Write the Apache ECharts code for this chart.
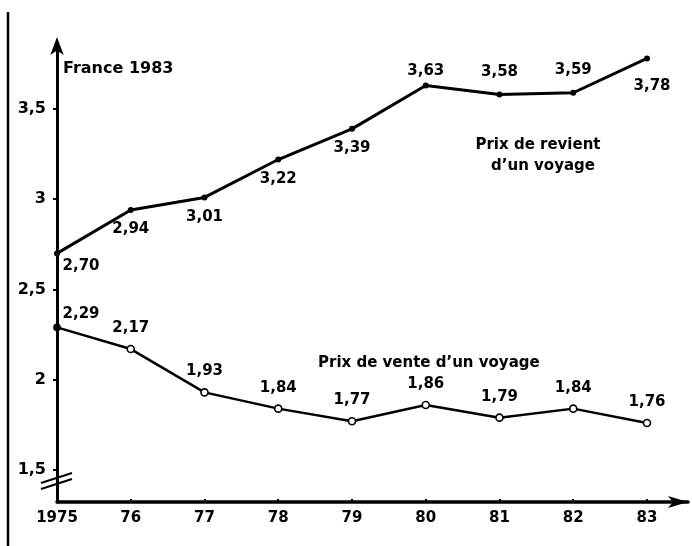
<!DOCTYPE html>
<html>
<head>
<meta charset="utf-8">
<script src="https://cdn.jsdelivr.net/npm/echarts@6/dist/echarts.min.js"></script>
<style>
  html, body { margin: 0; padding: 0; background: #fff; }
  #chart { width: 692px; height: 546px; }
</style>
</head>
<body>
<div id="chart"></div>
<script>
// Years on the horizontal axis
const years = ['1975', '76', '77', '78', '79', '80', '81', '82', '83'];
// Cost price of a trip (prix de revient)
const prixRevient = [2.70, 2.94, 3.01, 3.22, 3.39, 3.63, 3.58, 3.59, 3.78];
// Selling price of a trip (prix de vente)
const prixVente = [2.29, 2.17, 1.93, 1.84, 1.77, 1.86, 1.79, 1.84, 1.76];
// Values marked on the vertical axis
const yTicks = [1.5, 2, 2.5, 3, 3.5];

const FONT = 'DejaVu Sans';
const INK = '#000';
const dec = v => v.toFixed(2).replace('.', ',');
const tickText = v => String(v).replace('.', ',');
const xIdx = years.map((_, i) => i);

// Cost line: values under the points, except on the 1980-82 plateau
const revientData = prixRevient.map((v, i) => {
  const item = { value: [i, v] };
  if (i === 0) item.label = { position: 'bottom', offset: [24, -7] };
  else if (i === 5) item.label = { position: 'top', distance: 4 };
  else if (i === 6 || i === 7) item.label = { position: 'top', distance: 12 };
  else if (i === prixRevient.length - 1) item.label = { position: 'bottom', offset: [5, 8] };
  return item;
});

// Selling line: values above the points; the starting point is filled
const venteData = prixVente.map((v, i) => {
  const item = { value: [i, v] };
  if (i === 0) {
    item.label = { position: 'top', offset: [24, 7] };
    item.itemStyle = { color: INK };
    item.symbolSize = 6;
  }
  return item;
});

const labelFont = { fontFamily: FONT, fontWeight: 'bold', fontSize: 15, color: INK };

const chart = echarts.init(document.getElementById('chart'), null, { renderer: 'canvas' });

chart.setOption({
  animation: false,
  backgroundColor: '#fff',
  grid: { left: 57, right: 4, top: 44, bottom: 44, containLabel: false },
  xAxis: {
    type: 'value',
    min: 0,
    max: 8.556,
    splitLine: { show: false },
    axisLine: {
      show: true,
      lineStyle: { color: INK, width: 3.5 },
      symbol: ['none', 'arrow'],
      symbolSize: [9, 20]
    },
    axisTick: { show: true, inside: true, length: 3, customValues: xIdx, lineStyle: { color: INK, width: 2 } },
    axisLabel: {
      customValues: xIdx,
      formatter: v => years[Math.round(v)],
      margin: 9,
      ...labelFont
    }
  },
  yAxis: {
    type: 'value',
    min: 1.3227,
    max: 3.8601,
    splitLine: { show: false },
    axisLine: {
      show: true,
      lineStyle: { color: INK, width: 3 },
      symbol: ['none', 'arrow'],
      symbolSize: [10, 18],
      symbolOffset: [0, 7]
    },
    axisTick: { show: true, length: 4, customValues: yTicks, lineStyle: { color: INK, width: 2 } },
    axisLabel: {
      customValues: yTicks,
      formatter: tickText,
      margin: 11,
      ...labelFont,
      fontSize: 16
    }
  },
  series: [
    {
      name: 'Prix de revient',
      type: 'line',
      data: revientData,
      symbol: 'circle',
      symbolSize: 6,
      itemStyle: { color: INK },
      lineStyle: { color: INK, width: 3 },
      label: { show: true, position: 'bottom', distance: 9, formatter: p => dec(p.value[1]), ...labelFont },
      z: 3
    },
    {
      name: 'Prix de vente',
      type: 'line',
      data: venteData,
      symbol: 'circle',
      symbolSize: 7,
      itemStyle: { color: '#fff', borderColor: INK, borderWidth: 1.6 },
      lineStyle: { color: INK, width: 2.5 },
      label: { show: true, position: 'top', distance: 9, formatter: p => dec(p.value[1]), ...labelFont },
      z: 3
    }
  ]
});

// Annotations, the left page edge and the axis break
const x0 = chart.convertToPixel({ xAxisIndex: 0 }, 0);
const yb = chart.convertToPixel({ yAxisIndex: 0 }, 1.456);
const textStyle = (t, size) => ({ text: t, fill: INK, font: 'bold ' + size + 'px "' + FONT + '"' });

chart.setOption({
  graphic: [
    { type: 'line', shape: { x1: 8, y1: 12, x2: 8, y2: 546 }, style: { stroke: INK, lineWidth: 2.5 } },
    { type: 'text', x: x0 + 6, y: 61, style: textStyle('France 1983', 16) },
    { type: 'text', x: 538, y: 145, style: Object.assign(textStyle('Prix de revient', 15), { align: 'center', verticalAlign: 'middle' }) },
    { type: 'text', x: 543, y: 166, style: Object.assign(textStyle('d\u2019un voyage', 15), { align: 'center', verticalAlign: 'middle' }) },
    { type: 'text', x: 318, y: 363, style: Object.assign(textStyle('Prix de vente d\u2019un voyage', 15), { verticalAlign: 'middle' }) },
    { type: 'line', shape: { x1: x0 - 16, y1: yb + 5, x2: x0 + 15, y2: yb - 5 }, style: { stroke: INK, lineWidth: 2 } },
    { type: 'line', shape: { x1: x0 - 16, y1: yb + 11, x2: x0 + 15, y2: yb + 1 }, style: { stroke: INK, lineWidth: 2 } }
  ]
});
</script>
</body>
</html>
